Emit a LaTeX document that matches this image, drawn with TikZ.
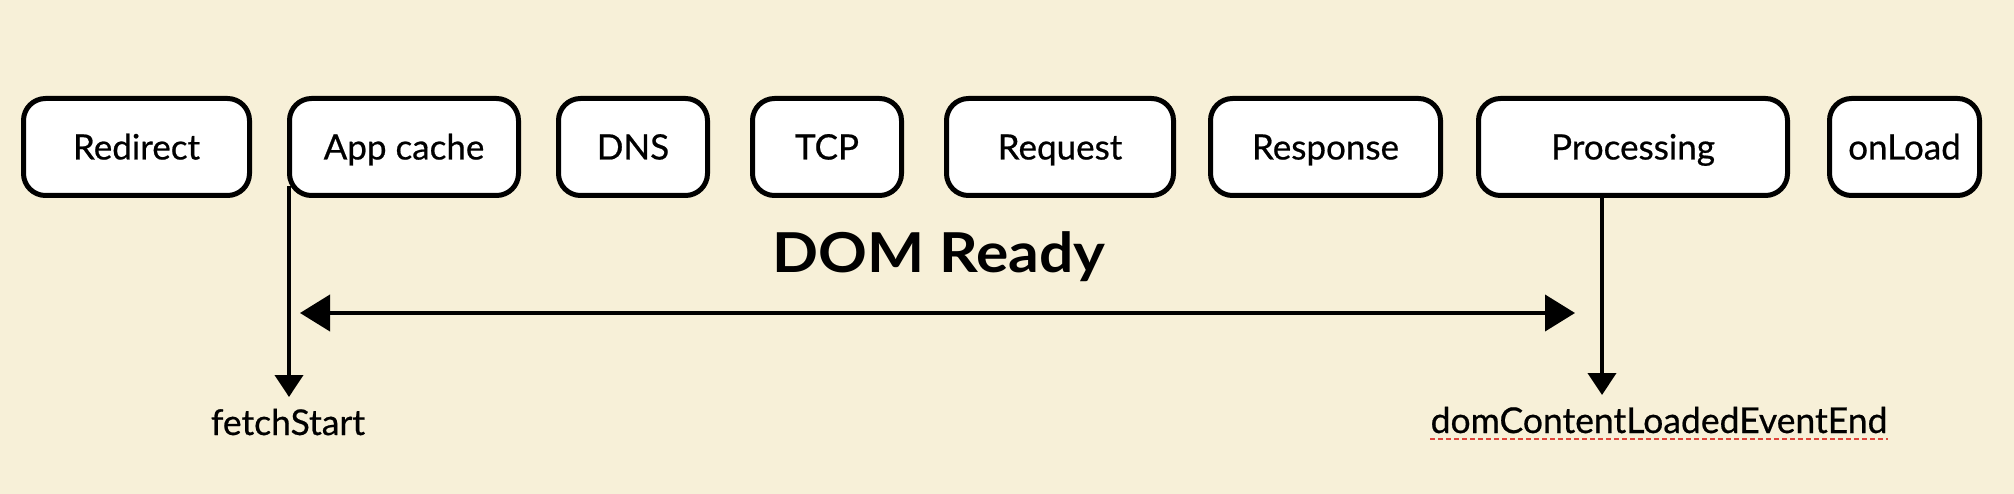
\documentclass[tikz,border=0pt]{standalone}
\usepackage{fontspec}
\setmainfont{Lato}
\newfontfamily\lblfont[FakeBold=0.6]{Lato}
\usetikzlibrary{arrows.meta}
\definecolor{bg}{HTML}{F7F0D8}
\definecolor{spell}{HTML}{E0443A}
\begin{document}
\begin{tikzpicture}[x=1pt,y=-1pt,
  stage/.style={draw=black, line width=5pt, fill=white, rounded corners=22pt,
    minimum height=97pt, inner sep=0pt, font=\lblfont\fontsize{35}{40}\selectfont,
    text height=25pt, text depth=0pt},
  evt/.style={inner sep=0pt, font=\lblfont\fontsize{35.5}{40}\selectfont, anchor=base},
  vline/.style={line width=4pt, -{Triangle[length=22pt,width=28pt]}},
  hline/.style={line width=4pt, {Triangle[length=30pt,width=36pt]}-{Triangle[length=30pt,width=36pt]}}]
\useasboundingbox (0,0) rectangle (2014,494);
\fill[bg] (0,0) rectangle (2014,494);
% stages
\node[stage, minimum width=226pt] (redirect)   at (136.5,147) {Redirect};
\node[stage, minimum width=229pt] (appcache)   at (404,147)   {App cache};
\node[stage, minimum width=149pt] (dns)        at (633,147)   {DNS};
\node[stage, minimum width=149pt] (tcp)        at (827,147)   {TCP};
\node[stage, minimum width=227pt] (request)    at (1060,147)  {Request};
\node[stage, minimum width=230pt] (response)   at (1325.5,147){Response};
\node[stage, minimum width=309pt] (processing) at (1633,147)  {Processing};
\node[stage, minimum width=150pt] (onload)     at (1904.5,147){onLoad};
% labels
\node[font=\bfseries\fontsize{55}{60}\selectfont, anchor=base, inner sep=0pt] (domready) at (939,273) {\scalebox{1.1}[1]{DOM Ready}};
\node[evt] (fetch) at (288,435) {fetchStart};
\node[evt] (dcle) at (1659,433) {domContentLoadedEventEnd};
\draw[spell, line width=2.5pt, dash pattern=on 5pt off 3pt]
  ([yshift=-6pt]dcle.base west) -- ([yshift=-6pt]dcle.base east);
% connectors
\coordinate (fs) at (289,397);
\coordinate (dc) at (1602,395);
\draw[vline] ([xshift=2pt,yshift=12pt]appcache.south west) -- (fs);
\draw[vline] ([xshift=-31pt]processing.south) -- (dc);
\coordinate (hl) at (300,313);
\coordinate (hr) at (1575,313);
\draw[hline] (hl) -- (hr);
\end{tikzpicture}
\end{document}
